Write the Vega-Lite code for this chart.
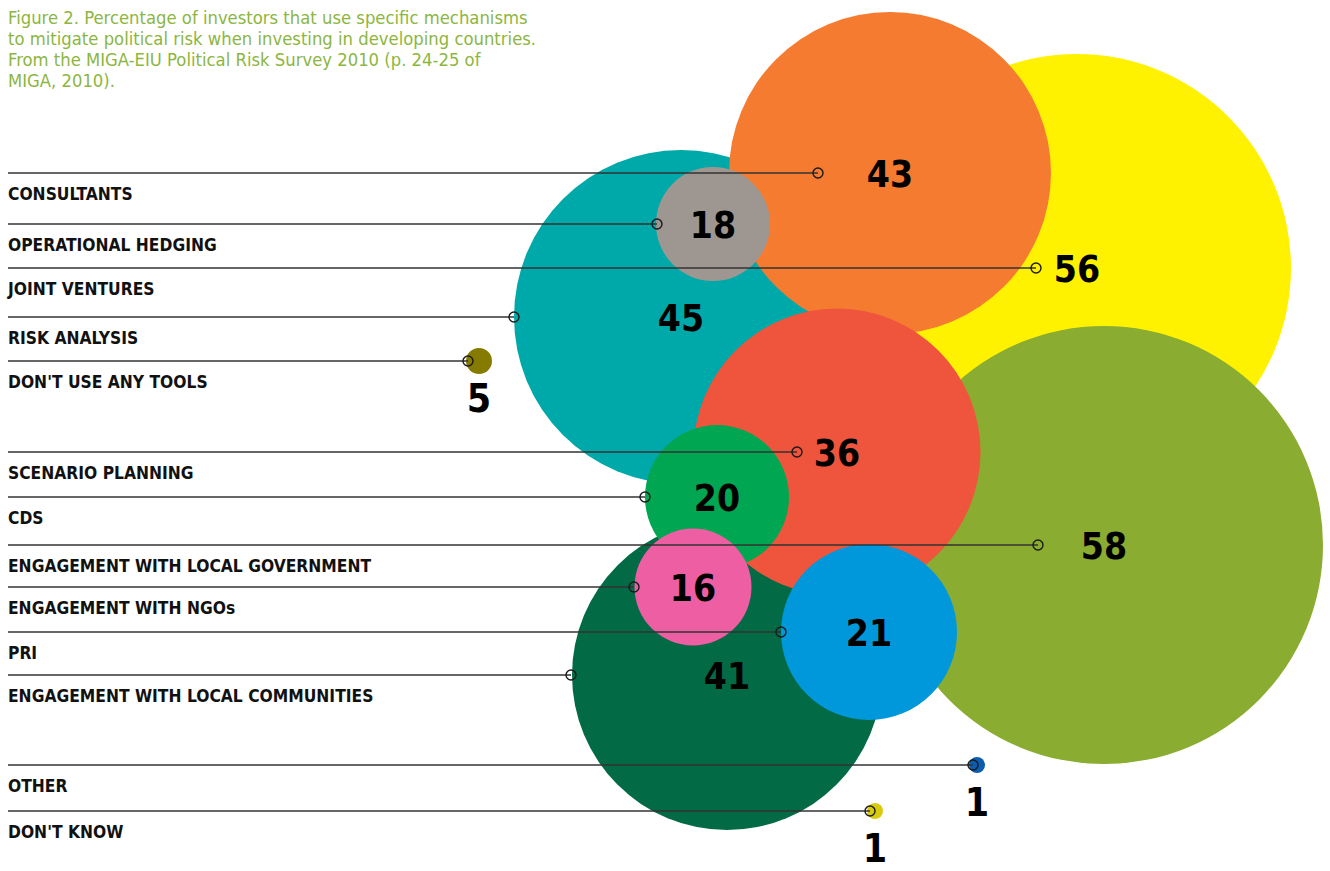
{
  "$schema": "https://vega.github.io/schema/vega-lite/v6.json",
  "width": 1330,
  "height": 871,
  "padding": 0,
  "autosize": {"type": "fit", "contains": "padding"},
  "background": "white",
  "config": {"view": {"stroke": null}},
  "datasets": {
    "bubbles": [
      {"label": "JOINT VENTURES", "value": 56, "cx": 1077, "cy": 268, "lx": 1036, "color": "#FFF200"},
      {"label": "RISK ANALYSIS", "value": 45, "cx": 681, "cy": 317, "lx": 514, "color": "#00A9A9"},
      {"label": "CONSULTANTS", "value": 43, "cx": 890, "cy": 173, "lx": 818, "color": "#F47B30"},
      {"label": "ENGAGEMENT WITH LOCAL GOVERNMENT", "value": 58, "cx": 1104, "cy": 545, "lx": 1038, "color": "#8AAD31"},
      {"label": "ENGAGEMENT WITH LOCAL COMMUNITIES", "value": 41, "cx": 727, "cy": 675, "lx": 571, "color": "#026A45"},
      {"label": "SCENARIO PLANNING", "value": 36, "cx": 837, "cy": 452, "lx": 797, "color": "#EF543C"},
      {"label": "CDS", "value": 20, "cx": 717, "cy": 497, "lx": 645, "color": "#00A651"},
      {"label": "PRI", "value": 21, "cx": 869, "cy": 632, "lx": 781, "color": "#0098DA"},
      {"label": "OPERATIONAL HEDGING", "value": 18, "cx": 713, "cy": 224, "lx": 657, "color": "#9E9791"},
      {"label": "ENGAGEMENT WITH NGOs", "value": 16, "cx": 693, "cy": 587, "lx": 634, "color": "#EE5EA2"},
      {"label": "DON'T USE ANY TOOLS", "value": 5, "cx": 479, "cy": 361, "lx": 468, "color": "#857B00"},
      {"label": "OTHER", "value": 1, "cx": 977, "cy": 765, "lx": 973, "color": "#0B5DB0"},
      {"label": "DON'T KNOW", "value": 1, "cx": 875, "cy": 811, "lx": 870, "color": "#D9CB0C"}
    ],
    "heading": [
      {"t": "Figure 2. Percentage of investors that use specific mechanisms\nto mitigate political risk when investing in developing countries.\nFrom the MIGA-EIU Political Risk Survey 2010 (p. 24-25 of\nMIGA, 2010)."}
    ]
  },
  "layer": [
    {
      "data": {"name": "bubbles"},
      "mark": {"type": "point", "shape": "circle", "filled": true, "opacity": 1, "strokeWidth": 0},
      "encoding": {
        "x": {"field": "cx", "type": "quantitative", "scale": {"domain": [0, 1330], "nice": false, "zero": false}, "axis": null},
        "y": {"field": "cy", "type": "quantitative", "scale": {"domain": [0, 871], "nice": false, "zero": false, "reverse": true}, "axis": null},
        "size": {"field": "value", "type": "quantitative", "scale": {"type": "linear", "domain": [0, 1, 5, 16, 18, 20, 21, 36, 41, 43, 45, 56, 58], "range": [0, 256, 676, 13689, 12996, 20736, 30976, 82369, 96100, 103684, 111556, 183184, 191844]}, "legend": null},
        "color": {"field": "color", "type": "nominal", "scale": null, "legend": null}
      }
    },
    {
      "data": {"name": "bubbles"},
      "mark": {"type": "rule", "color": "#333333", "strokeWidth": 1.3},
      "encoding": {
        "x": {"field": "lx", "type": "quantitative", "scale": {"domain": [0, 1330], "nice": false, "zero": false}, "axis": null},
        "x2": {"datum": 8},
        "y": {"field": "cy", "type": "quantitative", "scale": {"domain": [0, 871], "nice": false, "zero": false, "reverse": true}, "axis": null}
      }
    },
    {
      "data": {"name": "bubbles"},
      "mark": {"type": "point", "shape": "circle", "filled": false, "stroke": "#1a1a1a", "strokeWidth": 1.4, "size": 100, "opacity": 1},
      "encoding": {
        "x": {"field": "lx", "type": "quantitative", "scale": {"domain": [0, 1330], "nice": false, "zero": false}, "axis": null},
        "y": {"field": "cy", "type": "quantitative", "scale": {"domain": [0, 871], "nice": false, "zero": false, "reverse": true}, "axis": null}
      }
    },
    {
      "data": {"name": "bubbles"},
      "mark": {"type": "text", "align": "left", "baseline": "alphabetic", "dy": 27, "fontSize": 17.3, "fontWeight": "bold", "font": "Liberation Sans Narrow, DejaVu Sans Condensed, Arial Narrow, sans-serif", "color": "#111111"},
      "encoding": {
        "x": {"datum": 8, "type": "quantitative", "scale": {"domain": [0, 1330], "nice": false, "zero": false}, "axis": null},
        "y": {"field": "cy", "type": "quantitative", "scale": {"domain": [0, 871], "nice": false, "zero": false, "reverse": true}, "axis": null},
        "text": {"field": "label", "type": "nominal"}
      }
    },
    {
      "data": {"name": "bubbles"},
      "transform": [{"filter": "datum.value >= 10"}],
      "mark": {"type": "text", "align": "center", "baseline": "alphabetic", "dy": 14, "fontSize": 37, "fontWeight": "bold", "font": "Liberation Sans Narrow, DejaVu Sans Condensed, Arial Narrow, sans-serif", "color": "#000000"},
      "encoding": {
        "x": {"field": "cx", "type": "quantitative", "scale": {"domain": [0, 1330], "nice": false, "zero": false}, "axis": null},
        "y": {"field": "cy", "type": "quantitative", "scale": {"domain": [0, 871], "nice": false, "zero": false, "reverse": true}, "axis": null},
        "text": {"field": "value", "type": "quantitative"}
      }
    },
    {
      "data": {"name": "bubbles"},
      "transform": [{"filter": "datum.value < 10"}],
      "mark": {"type": "text", "align": "center", "baseline": "alphabetic", "dy": 51, "fontSize": 39, "fontWeight": "bold", "font": "Liberation Sans Narrow, DejaVu Sans Condensed, Arial Narrow, sans-serif", "color": "#000000"},
      "encoding": {
        "x": {"field": "cx", "type": "quantitative", "scale": {"domain": [0, 1330], "nice": false, "zero": false}, "axis": null},
        "y": {"field": "cy", "type": "quantitative", "scale": {"domain": [0, 871], "nice": false, "zero": false, "reverse": true}, "axis": null},
        "text": {"field": "value", "type": "quantitative"}
      }
    },
    {
      "data": {"name": "heading"},
      "mark": {"type": "text", "align": "left", "baseline": "top", "lineBreak": "\n", "lineHeight": 21, "fontSize": 18.3, "font": "Liberation Sans Narrow, DejaVu Sans Condensed, Arial Narrow, sans-serif", "color": "#8CB63F"},
      "encoding": {
        "x": {"datum": 8, "type": "quantitative", "scale": {"domain": [0, 1330], "nice": false, "zero": false}, "axis": null},
        "y": {"datum": 10, "type": "quantitative", "scale": {"domain": [0, 871], "nice": false, "zero": false, "reverse": true}, "axis": null},
        "text": {"field": "t", "type": "nominal"}
      }
    }
  ]
}
